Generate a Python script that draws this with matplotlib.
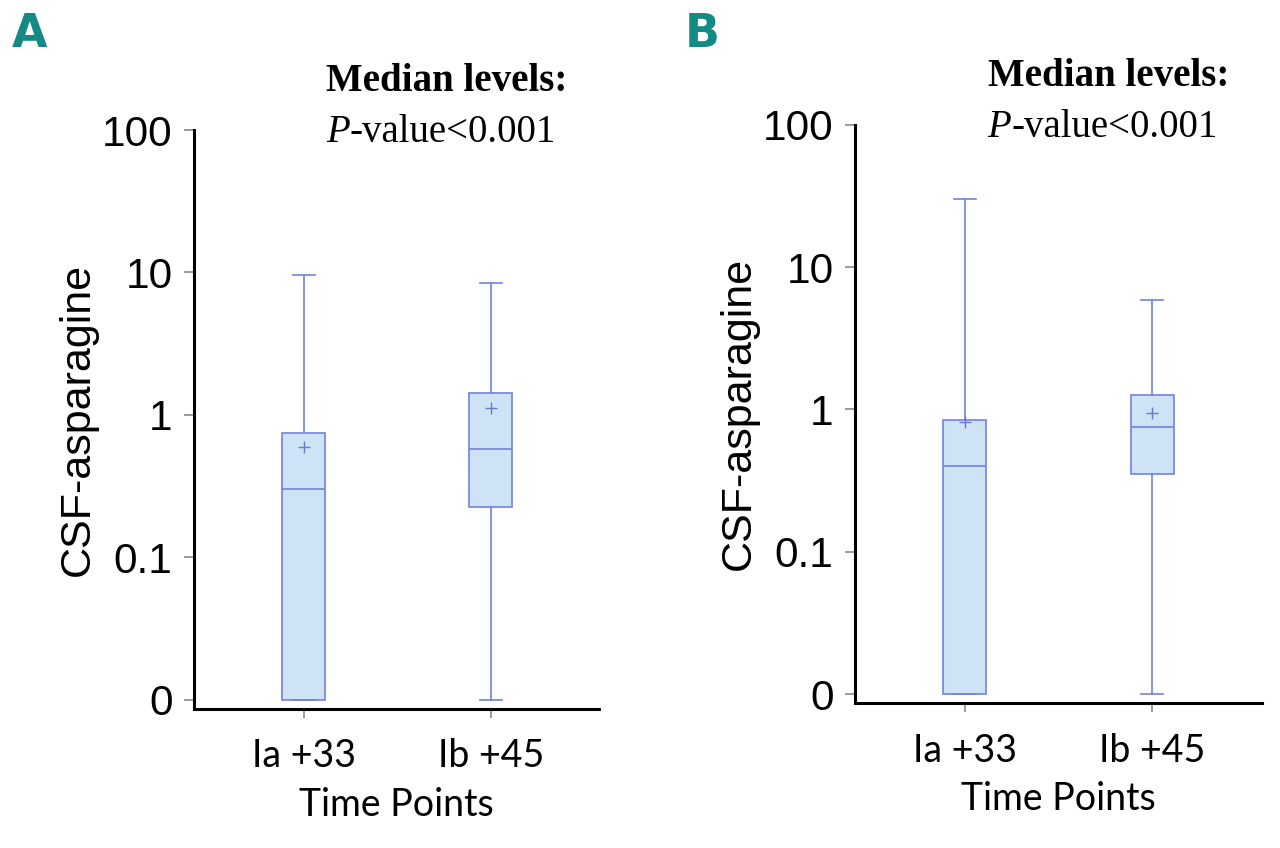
import matplotlib
matplotlib.use("Agg")
import matplotlib.pyplot as plt
from matplotlib.offsetbox import TextArea, HPacker, AnchoredOffsetbox

# ---------------- data ----------------
categories = ["Ia +33", "Ib +45"]
panel_letters = ["A", "B"]

# Panel A
a_whislo = [0.01, 0.01]
a_q1 = [0.01, 0.225]
a_med = [0.30, 0.58]
a_q3 = [0.75, 1.43]
a_whishi = [9.6, 8.5]
a_mean = [0.60, 1.12]

# Panel B
b_whislo = [0.01, 0.01]
b_q1 = [0.01, 0.35]
b_med = [0.40, 0.75]
b_q3 = [0.84, 1.27]
b_whishi = [30.0, 5.9]
b_mean = [0.82, 0.95]

ytick_values = [0.01, 0.1, 1, 10, 100]
ytick_labels = ["0", "0.1", "1", "10", "100"]

ylabel = "CSF-asparagine"
xlabel = "Time Points"
note_title = "Median levels:"
note_p = "P"
note_rest = "-value<0.001"

# ---------------- style ----------------
EDGE = "#7282e0"
FILL = "#cee3f6"
TEAL = "#138a84"
TICKC = "#8a8a8a"

fig = plt.figure(figsize=(12.8, 8.48), dpi=100)

panels = [
    dict(rect=[194/1280, 1-708.5/848, (599-194)/1280, (708.5-130)/848],
         xlim=(0.413, 2.579),
         stats=(a_whislo, a_q1, a_med, a_q3, a_whishi, a_mean),
         letter_xy=(12/1280, 1-47/848)),
    dict(rect=[855/1280, 1-702.7/848, (1262-855)/1280, (702.7-124.7)/848],
         xlim=(0.412, 2.588),
         stats=(b_whislo, b_q1, b_med, b_q3, b_whishi, b_mean),
         letter_xy=(685/1280, 1-47/848)),
]

for letter, p in zip(panel_letters, panels):
    ax = fig.add_axes(p["rect"])
    wl, q1, md, q3, wh, mn = p["stats"]
    stats = []
    for i, c in enumerate(categories):
        stats.append(dict(label=c, whislo=wl[i], q1=q1[i], med=md[i],
                          q3=q3[i], whishi=wh[i], mean=mn[i], fliers=[]))
    ax.bxp(stats, positions=[1, 2], widths=0.23, patch_artist=True,
           showmeans=True, showfliers=False,
           boxprops=dict(facecolor=FILL, edgecolor=EDGE, linewidth=1.2),
           medianprops=dict(color=EDGE, linewidth=1.2),
           whiskerprops=dict(color=EDGE, linewidth=1.2),
           capprops=dict(color=EDGE, linewidth=1.2),
           capwidths=0.12,
           meanprops=dict(marker="+", markersize=9, markeredgecolor="#6a78c8",
                          markeredgewidth=1.0, linestyle="none"))
    ax.set_yscale("log")
    ax.set_ylim(0.0087, 100)
    ax.set_xlim(*p["xlim"])
    ax.set_yticks(ytick_values)
    ax.set_yticklabels(ytick_labels, fontfamily="Liberation Sans", fontsize=30.5)
    ax.minorticks_off()
    ax.set_xticks([1, 2])
    ax.set_xticklabels(categories, fontfamily="Lato", fontsize=27)
    ax.tick_params(axis="y", length=7.5, width=1.2, color=TICKC, pad=8)
    ax.tick_params(axis="x", length=6.5, width=1.2, color=TICKC, pad=15)
    for s in ["top", "right"]:
        ax.spines[s].set_visible(False)
    for s in ["left", "bottom"]:
        ax.spines[s].set_linewidth(2.2)
        ax.spines[s].set_color("black")
    ax.set_ylabel(ylabel, fontfamily="Liberation Sans", fontsize=31, labelpad=3)
    ax.set_xlabel(xlabel, fontfamily="Lato", fontsize=27, labelpad=9)

    # annotations
    ax.text(132/405, 1 + 38.5/578, note_title, transform=ax.transAxes,
            fontfamily="Liberation Serif", fontweight="bold", fontsize=28,
            ha="left", va="baseline")
    tp = TextArea(note_p, textprops=dict(fontfamily="Liberation Serif",
                                         fontstyle="italic", fontsize=28))
    tr = TextArea(note_rest, textprops=dict(fontfamily="Liberation Serif", fontsize=28))
    box = HPacker(children=[tp, tr], align="baseline", pad=0, sep=0)
    ab = AnchoredOffsetbox(loc="lower left", child=box, pad=0, frameon=False,
                           bbox_to_anchor=(132/405, 1 - 21/578),
                           bbox_transform=ax.transAxes, borderpad=0)
    ax.add_artist(ab)

    fig.text(p["letter_xy"][0], p["letter_xy"][1], letter,
             fontfamily=["Liberation Sans Narrow", "DejaVu Sans"],
             fontweight="bold", fontsize=33, color=TEAL, ha="left", va="baseline")

fig.savefig("out.png", dpi=100)
